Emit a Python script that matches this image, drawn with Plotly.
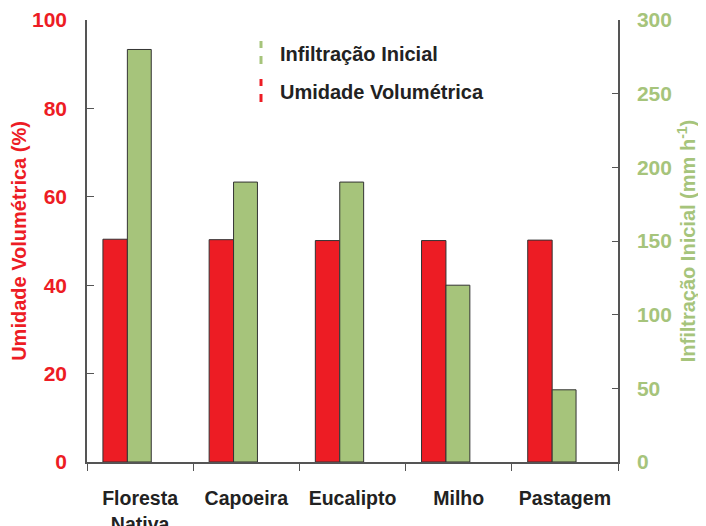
import plotly.graph_objects as go

categories = ["Floresta<br>Nativa", "Capoeira", "Eucalipto", "Milho", "Pastagem"]
umidade = [50.4, 50.3, 50.1, 50.1, 50.2]
infiltracao = [280, 190, 190, 120, 49]

RED = "#ed1c24"
GREEN = "#a6c47b"
FONT = "Liberation Sans, Arial, sans-serif"

fig = go.Figure()
fig.add_trace(go.Bar(x=categories, y=umidade, name="Umidade Volumétrica",
                     marker=dict(color=RED, line=dict(color="#333333", width=1)),
                     width=0.23, offset=-0.35, yaxis="y"))
fig.add_trace(go.Bar(x=categories, y=infiltracao, name="Infiltração Inicial",
                     marker=dict(color=GREEN, line=dict(color="#333333", width=1)),
                     width=0.225, offset=-0.12, yaxis="y2"))

# page body has an 8px default margin: shrink figure so it fits the 706x526 window
fig.update_layout(
    width=698, height=518,
    margin=dict(l=79, r=88, t=12, b=64),
    paper_bgcolor="white", plot_bgcolor="white",
    showlegend=False,
    font=dict(family=FONT),
    xaxis=dict(type="category", tickson="boundaries", ticks="outside", ticklen=7,
               tickcolor="#555555", showline=True, linecolor="#555555", linewidth=1.5,
               tickfont=dict(size=19.5, color="#222222", weight="bold"), ticklabelstandoff=18,
               showgrid=False, range=[-0.5, 4.5], automargin=False),
    yaxis=dict(range=[0, 100], tickvals=[0, 20, 40, 60, 80, 100], ticks="inside", ticklen=7,
               tickcolor="#555555", showline=True, linecolor="#555555", linewidth=1.5,
               showgrid=False, zeroline=False, automargin=False,
               tickfont=dict(size=21, color=RED, weight="bold"), ticklabelstandoff=14,
               title=dict(text="Umidade Volumétrica (%)", font=dict(size=20, color=RED, weight="bold"),
                          standoff=4)),
    yaxis2=dict(range=[0, 300], tickvals=[0, 50, 100, 150, 200, 250, 300], ticks="inside", ticklen=6,
                overlaying="y", side="right", automargin=False,
                tickcolor="#555555", showline=True, linecolor="#555555", linewidth=1.5,
                showgrid=False, zeroline=False,
                tickfont=dict(size=21, color=GREEN, weight="bold"), ticklabelstandoff=13,
                title=dict(text="Infiltração Inicial (mm h<sup>-1</sup>)",
                           font=dict(size=20, color=GREEN, weight="bold"), standoff=10)),
)

def ypaper(py):
    return (462 - py) / 442

def xpaper(px):
    return (px - 87) / 531

legend_items = [("Infiltração Inicial", GREEN, [(41, 48), (56, 64)], 54),
                ("Umidade Volumétrica", RED, [(79, 86), (94, 102)], 92)]
for label, color, segs, ty in legend_items:
    for a, b in segs:
        fig.add_shape(type="line", xref="paper", yref="paper",
                      x0=xpaper(261), x1=xpaper(261), y0=ypaper(a), y1=ypaper(b),
                      line=dict(color=color, width=3))
    fig.add_annotation(text=label, xref="paper", yref="paper", x=xpaper(278), y=ypaper(ty),
                       xanchor="left", yanchor="middle", showarrow=False,
                       font=dict(size=20, color="#222222", weight="bold", family=FONT))

fig.write_html("out.html")
